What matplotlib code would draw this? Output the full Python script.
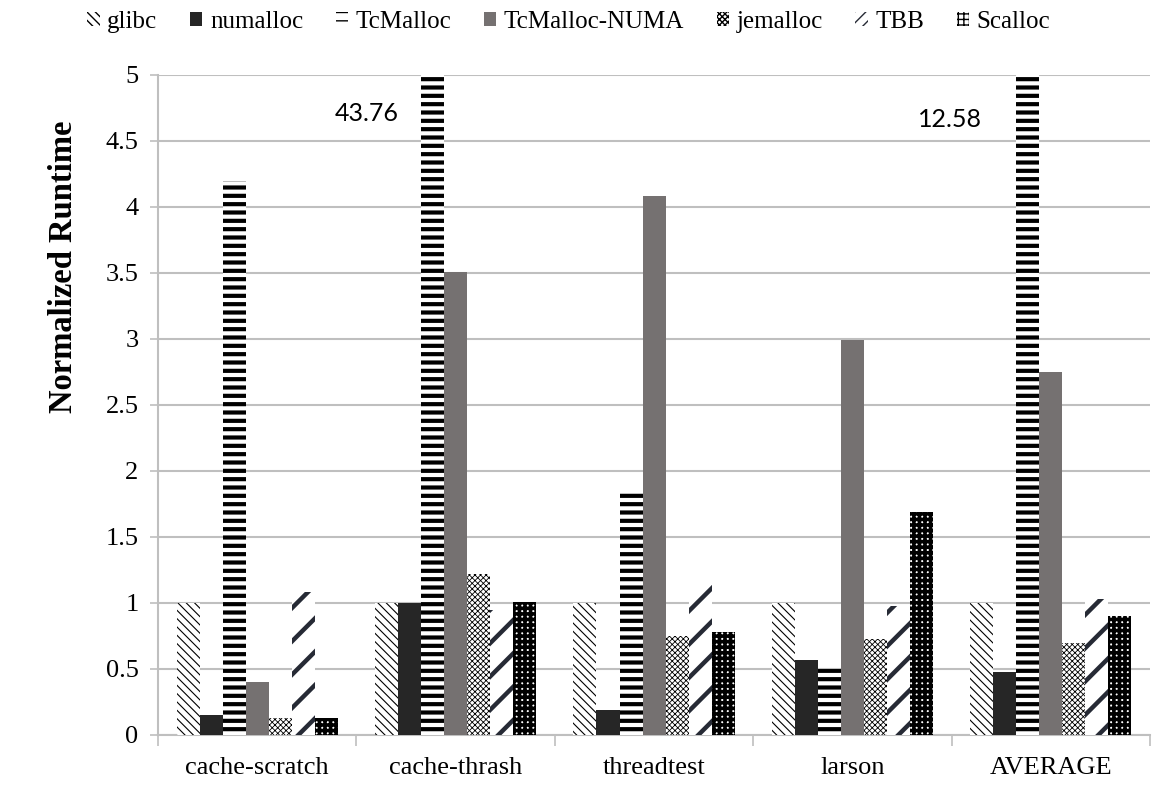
import numpy as np
import matplotlib.pyplot as plt
from matplotlib.patches import Patch

benchmarks = ["cache-scratch", "cache-thrash", "threadtest", "larson", "AVERAGE"]
allocators = ["glibc", "numalloc", "TcMalloc", "TcMalloc-NUMA", "jemalloc", "TBB", "Scalloc"]

glibc = [1.0, 1.0, 1.0, 1.0, 1.0]
numalloc = [0.15, 1.0, 0.19, 0.57, 0.48]
tcmalloc = [4.20, 43.76, 1.84, 0.51, 12.58]
tcmalloc_numa = [0.40, 3.51, 4.08, 2.99, 2.75]
jemalloc = [0.13, 1.22, 0.75, 0.73, 0.70]
tbb = [1.08, 0.95, 1.14, 0.98, 1.03]
scalloc = [0.13, 1.01, 0.78, 1.69, 0.90]

series = [glibc, numalloc, tcmalloc, tcmalloc_numa, jemalloc, tbb, scalloc]

# face, hatch colour, hatch, hatch linewidth
styles = [
    ("white", "black", "\\\\\\\\", 0.8),
    ("#262626", "#262626", None, 0),
    ("white", "black", "--", 3.0),
    ("#757171", "#757171", None, 0),
    ("white", "black", "xxxxxx", 0.6),
    ("white", "#262a35", "/", 3.2),
    ("white", "black", "+++", 2.6),
]
# legend swatches are tiny, so TBB needs a denser hatch there
legend_hatch = ["\\\\\\\\", None, "--", None, "xxxxxx", "///", "+++"]

plt.rcParams['font.family'] = ['Liberation Serif', 'DejaVu Serif']

fig = plt.figure(figsize=(11.68, 7.86), dpi=100)
ax = fig.add_axes([0.1353, 0.0649, 0.8493, 0.8397])

x = np.arange(len(benchmarks))
width = 0.116
for i, (name, vals) in enumerate(zip(allocators, series)):
    face, hc, hatch, hlw = styles[i]
    pos = x + (i - 3) * width
    bars = ax.bar(pos, vals, width, color=face, edgecolor=hc, hatch=hatch,
                  linewidth=0, label=name, zorder=3)
    for b in bars:
        if hatch is not None and hasattr(b, "set_hatch_linewidth"):
            b.set_hatch_linewidth(hlw)

ax.set_ylim(0, 5)
ax.set_xlim(-0.5, len(benchmarks) - 0.5)
ax.set_yticks(np.arange(0, 5.01, 0.5))
ax.set_yticklabels(["0", "0.5", "1", "1.5", "2", "2.5", "3", "3.5", "4", "4.5", "5"])
ax.set_xticks(x)
ax.set_xticklabels(benchmarks)
ax.set_xticks(np.arange(-0.5, len(benchmarks)), minor=True)
ax.tick_params(axis="x", which="major", length=0, labelsize=19, pad=16)
ax.tick_params(axis="x", which="minor", length=8, color="#bfbfbf", width=1.2)
ax.tick_params(axis="y", length=6, color="#bfbfbf", width=1.2, labelsize=19, pad=8)
ax.yaxis.grid(True, color="#bfbfbf", linewidth=1.5, zorder=0)
ax.set_axisbelow(True)
for s in ["top", "right"]:
    ax.spines[s].set_visible(False)
for s in ["left", "bottom"]:
    ax.spines[s].set_color("#bfbfbf")
    ax.spines[s].set_linewidth(1.5)

ax.set_ylabel("Normalized Runtime", fontsize=23.5, fontweight="bold")
ax.yaxis.set_label_coords(-0.08, 0.71)

# clipped TcMalloc values
ax.text(x[1] - 0.45, 4.71, "43.76", fontsize=18, ha="center", va="center",
        family=["Lato", "DejaVu Sans"])
ax.text(x[4] - 0.51, 4.66, "12.58", fontsize=18, ha="center", va="center",
        family=["Lato", "DejaVu Sans"])

handles = []
for i, name in enumerate(allocators):
    face, hc, hatch, hlw = styles[i]
    p = Patch(facecolor=face, edgecolor=hc, hatch=legend_hatch[i], linewidth=0, label=name)
    if legend_hatch[i] is not None and hasattr(p, "set_hatch_linewidth"):
        p.set_hatch_linewidth(min(hlw, 1.6))
    handles.append(p)

fig.legend(handles=handles, loc="upper center", bbox_to_anchor=(0.487, 1.015), ncol=7,
           frameon=False, fontsize=18, handlelength=0.5, handleheight=0.5,
           handletextpad=0.3, columnspacing=1.3)

fig.savefig("out.png", dpi=100)
